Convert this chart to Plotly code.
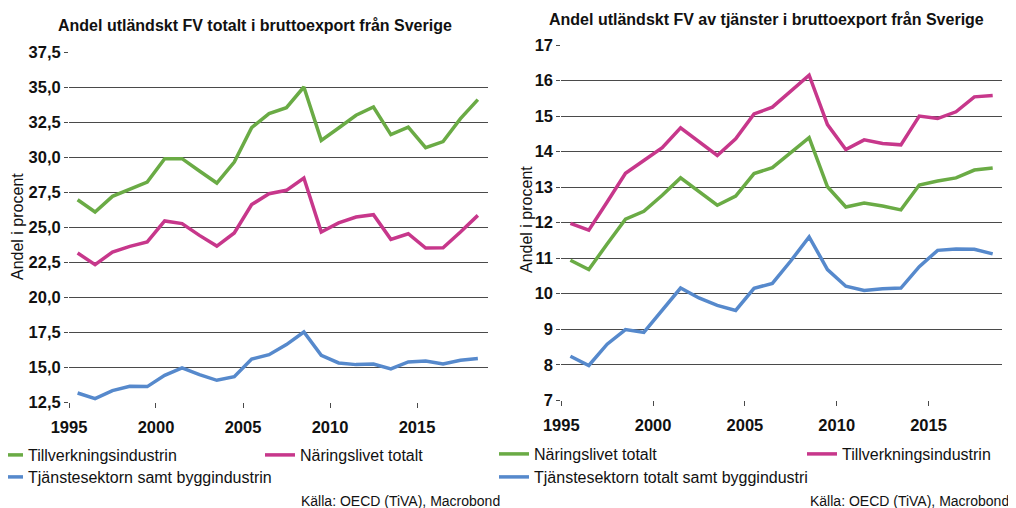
import plotly.graph_objects as go

years = list(range(1995, 2019))

# Left chart: Andel utländskt FV totalt i bruttoexport (procent)
tot_tillverkning = [26.95, 26.07, 27.19, 27.69, 28.21, 29.88, 29.88, 29.00, 28.14, 29.64,
                    32.10, 33.10, 33.52, 35.00, 31.19, 32.07, 32.98, 33.57, 31.60, 32.14,
                    30.67, 31.10, 32.74, 34.10]
tot_naringsliv = [23.14, 22.31, 23.21, 23.62, 23.93, 25.43, 25.24, 24.40, 23.64, 24.57,
                  26.60, 27.38, 27.62, 28.50, 24.64, 25.29, 25.71, 25.88, 24.12, 24.52,
                  23.50, 23.52, 24.64, 25.83]
tot_tjanster = [13.14, 12.74, 13.31, 13.62, 13.60, 14.40, 14.93, 14.45, 14.05, 14.31,
                15.57, 15.88, 16.60, 17.50, 15.83, 15.29, 15.17, 15.21, 14.86, 15.36,
                15.43, 15.21, 15.48, 15.60]

# Right chart: Andel utländskt FV av tjänster i bruttoexport (procent)
tj_naringsliv = [10.94, 10.68, 11.40, 12.10, 12.32, 12.77, 13.26, 12.88, 12.49, 12.75,
                 13.38, 13.55, 13.97, 14.39, 13.01, 12.44, 12.55, 12.47, 12.36, 13.06,
                 13.17, 13.26, 13.48, 13.54]
tj_tillverkning = [11.98, 11.79, 12.58, 13.39, 13.75, 14.11, 14.67, 14.28, 13.89, 14.36,
                   15.06, 15.25, 15.70, 16.15, 14.76, 14.06, 14.33, 14.23, 14.19, 15.00,
                   14.93, 15.12, 15.54, 15.58]
tj_tjanster = [8.24, 7.98, 8.58, 8.99, 8.91, 9.53, 10.16, 9.88, 9.67, 9.53,
               10.15, 10.29, 10.92, 11.60, 10.68, 10.21, 10.09, 10.14, 10.16, 10.76,
               11.22, 11.26, 11.25, 11.12]

left_title = "Andel utländskt FV totalt i bruttoexport från Sverige"
right_title = "Andel utländskt FV av tjänster i bruttoexport från Sverige"
y_title = "Andel i procent"
source = "Källa: OECD (TiVA), Macrobond"

GREEN = "#6AAB45"
PINK = "#C7378B"
BLUE = "#5689CC"
GRID = "#4A4A4A"
TXT = "#111111"
FONT = "Liberation Sans, Arial, sans-serif"

W, H = 1016, 508
OFF = 8  # page body margin offset in the browser
dates = [f"{y}-07-01" for y in years]

fig = go.Figure()

def add(x, y, name, color, xa, ya, legend):
    fig.add_trace(go.Scatter(x=x, y=y, name=name, mode="lines",
                             line=dict(color=color, width=3.5),
                             xaxis=xa, yaxis=ya, legend=legend))

add(dates, tot_tillverkning, "Tillverkningsindustrin", GREEN, "x", "y", "legend")
add(dates, tot_naringsliv, "Näringslivet totalt", PINK, "x", "y", "legend")
add(dates, tot_tjanster, "Tjänstesektorn samt byggindustrin", BLUE, "x", "y", "legend2")
add(dates, tj_naringsliv, "Näringslivet totalt", GREEN, "x2", "y2", "legend3")
add(dates, tj_tillverkning, "Tillverkningsindustrin", PINK, "x2", "y2", "legend3")
add(dates, tj_tjanster, "Tjänstesektorn totalt samt byggindustri", BLUE, "x2", "y2", "legend4")

def px_x(p):
    return (p - OFF) / W

def px_y(p):
    return 1 - (p - OFF) / H

tickfont = dict(family=FONT, size=16.5, color=TXT, weight="bold")
xcommon = dict(type="date", tick0="1995-01-01", dtick="M60", tickformat="%Y",
               showgrid=False, zeroline=False, showline=False,
               ticks="outside", ticklen=5, tickwidth=1.3, tickcolor=GRID,
               tickfont=tickfont, ticklabelstandoff=5)
ycommon = dict(showgrid=True, gridcolor=GRID, gridwidth=1.3, zeroline=False,
               showline=False, ticks="outside", ticklen=4, tickwidth=1.3, tickcolor=GRID,
               tickfont=tickfont)

fig.update_layout(
    width=W, height=H,
    margin=dict(l=0, r=0, t=0, b=0, autoexpand=False),
    paper_bgcolor="white", plot_bgcolor="white",
    separators=",.",
    font=dict(family=FONT, color=TXT),
    xaxis=dict(xcommon, domain=[px_x(69), px_x(488)], anchor="y",
               range=["1995-01-01", "2019-01-30"]),
    yaxis=dict(ycommon, domain=[px_y(402), px_y(52)], anchor="x",
               range=[12.5, 37.5], tick0=12.5, dtick=2.5, tickformat=".1f"),
    xaxis2=dict(xcommon, domain=[px_x(561.3), px_x(1002.3)], anchor="y2",
                range=["1995-01-01", "2019-01-08"]),
    yaxis2=dict(ycommon, domain=[px_y(400.3), px_y(45)], anchor="x2",
                range=[7, 17], tick0=7, dtick=1),
    showlegend=True,
)

legfont = dict(family=FONT, size=16, color=TXT)
# (legend id, left edge of legend box in reference px, row centre y, entry width, n items)
for key, left, yc, ew, n in [("legend", -12, 455, 227, 2), ("legend2", -12, 477, 300, 1),
                             ("legend3", 494, 454, 263, 2), ("legend4", 494, 477, 330, 1)]:
    width = n * (ew + 45)
    fig.layout[key] = dict(orientation="h", x=px_x(left + width / 2), y=px_y(yc),
                           xanchor="center", yanchor="middle",
                           entrywidth=ew, entrywidthmode="pixels",
                           font=legfont, bgcolor="rgba(0,0,0,0)", borderwidth=0,
                           itemclick=False, itemdoubleclick=False)

fig.add_annotation(text=f"<b>{left_title}</b>", x=px_x(255), y=px_y(25),
                   xref="paper", yref="paper", showarrow=False,
                   font=dict(family=FONT, size=16, color=TXT),
                   xanchor="center", yanchor="middle")
fig.add_annotation(text=f"<b>{right_title}</b>", x=px_x(766), y=px_y(20),
                   xref="paper", yref="paper", showarrow=False,
                   font=dict(family=FONT, size=16, color=TXT),
                   xanchor="center", yanchor="middle")
for xc, yc in ((17, 227), (527, 220)):
    fig.add_annotation(text=y_title, x=px_x(xc), y=px_y(yc), xref="paper", yref="paper",
                       showarrow=False, textangle=-90,
                       font=dict(family=FONT, size=16, color=TXT),
                       xanchor="center", yanchor="middle")
for xr in (502, 1011):
    fig.add_annotation(text=source, x=px_x(xr), y=px_y(501), xref="paper", yref="paper",
                       showarrow=False, font=dict(family=FONT, size=14, color=TXT),
                       xanchor="right", yanchor="middle")

fig.write_html("out.html")
